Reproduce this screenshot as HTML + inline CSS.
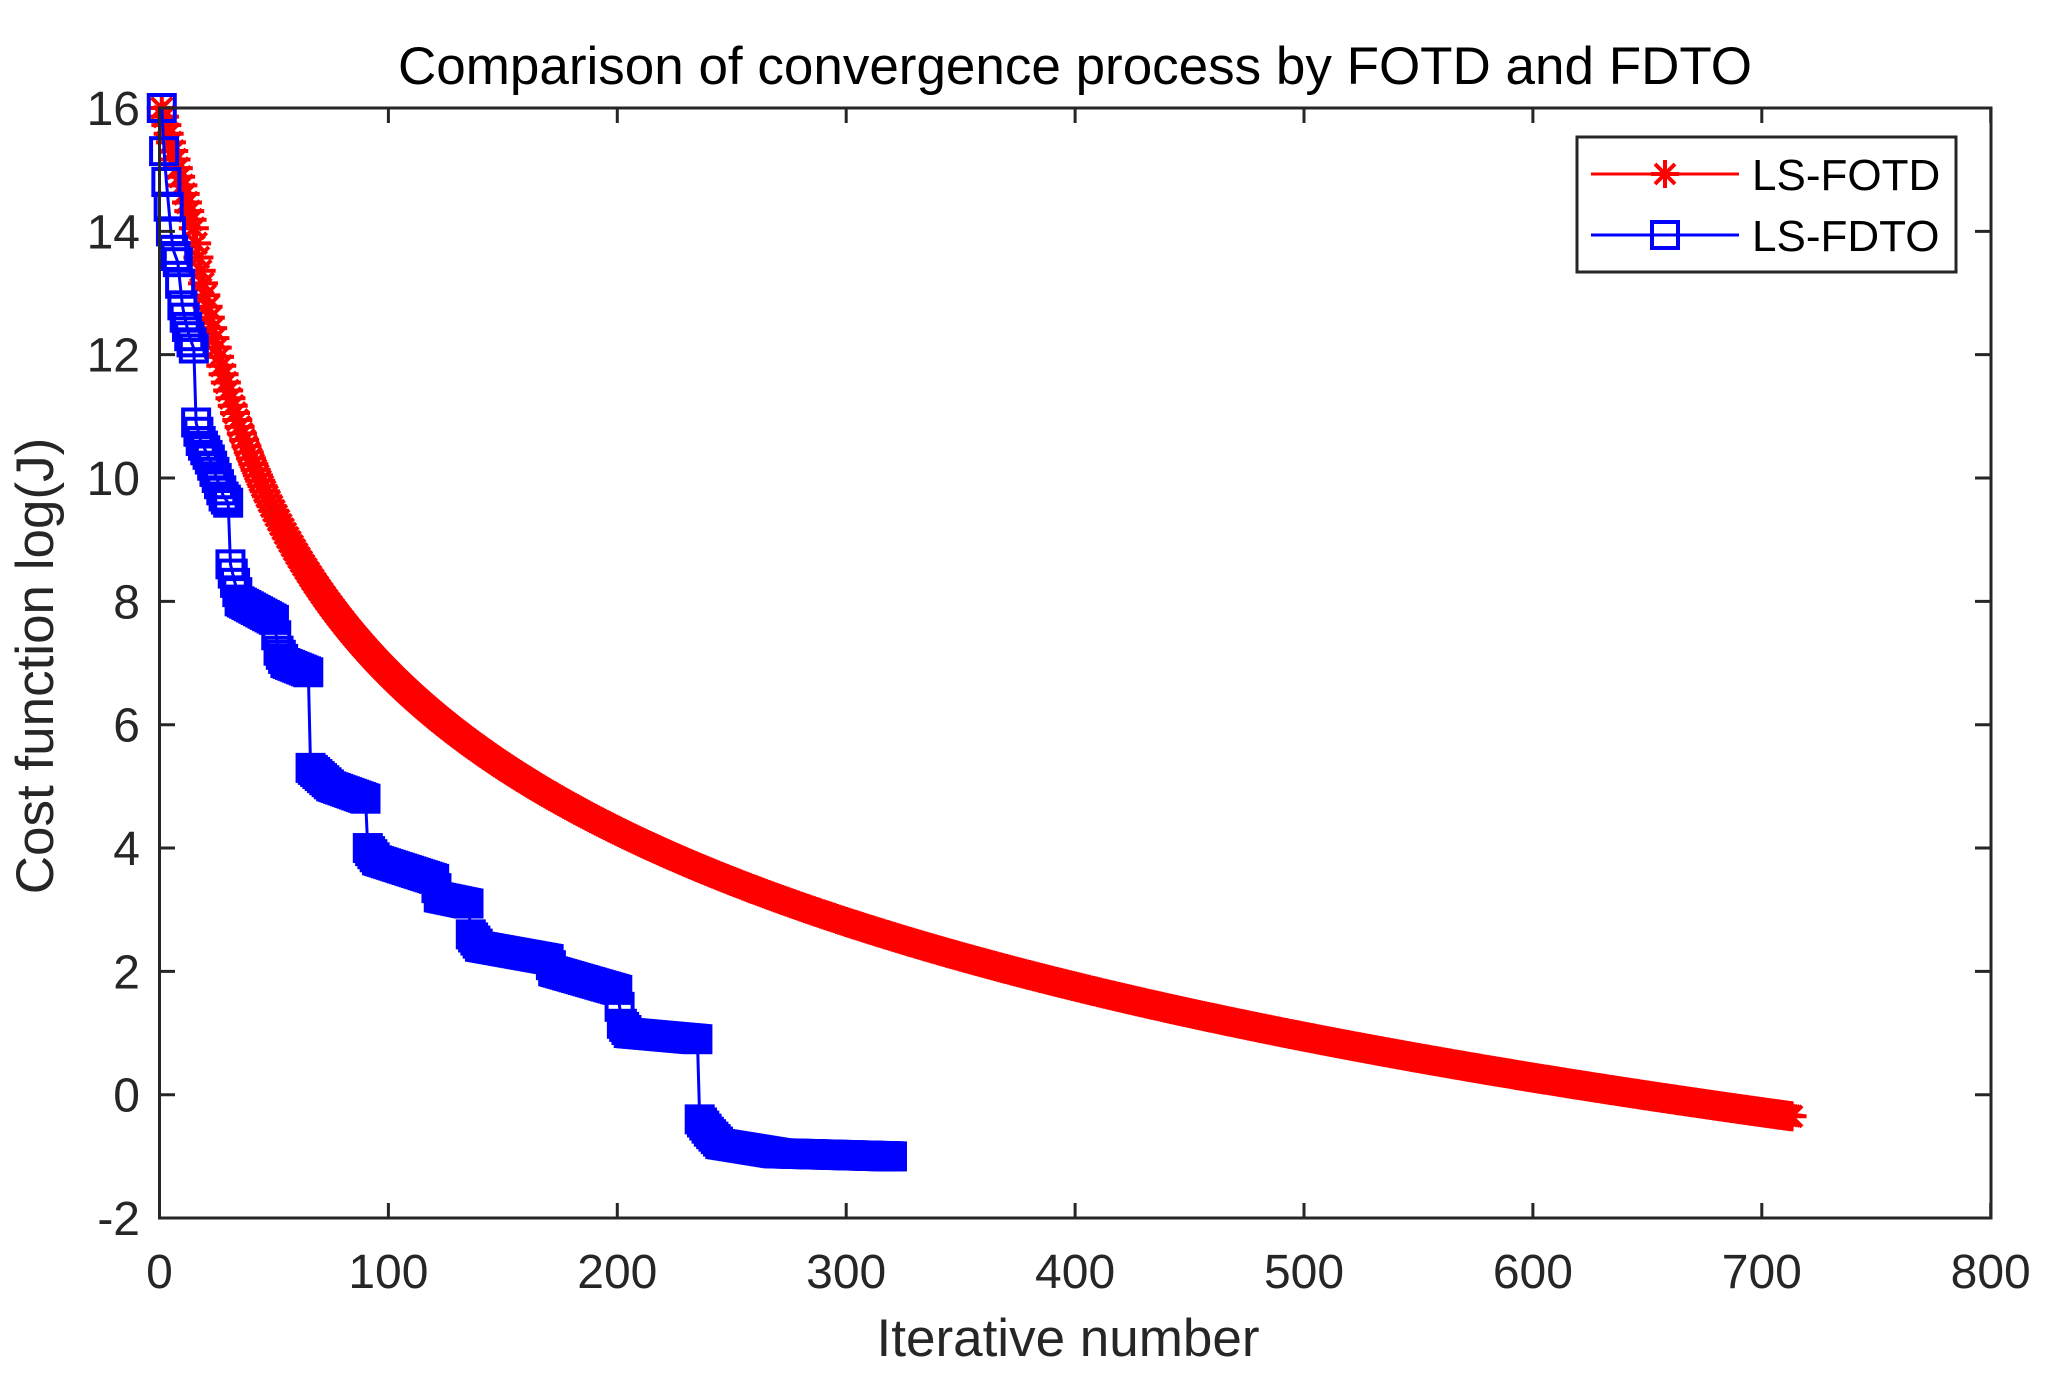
<!DOCTYPE html>
<html><head><meta charset="utf-8"><style>
html,body{margin:0;padding:0;background:#fff}
svg{display:block}
text{font-family:"Liberation Sans",Arial,sans-serif}
</style></head><body>
<svg id="s" width="2048" height="1379" xmlns="http://www.w3.org/2000/svg">
<rect width="2048" height="1379" fill="#fff"/>
<g id="data"></g>
<g id="axes" stroke="#262626" stroke-width="3" fill="none"></g>
<g id="labels" fill="#262626" font-size="48"></g>
<text x="1075" y="84" font-size="53" text-anchor="middle" fill="#000">Comparison of convergence process by FOTD and FDTO</text>
<text x="1068" y="1356" font-size="53" text-anchor="middle" fill="#262626">Iterative number</text>
<text transform="translate(53,666) rotate(-90)" font-size="53" text-anchor="middle" fill="#262626">Cost function log(J)</text>
<g>
<rect x="1577" y="137" width="379" height="135" fill="#fff" stroke="#262626" stroke-width="3"/>
<line x1="1591" y1="174" x2="1739" y2="174" stroke="#f00" stroke-width="3"/>
<g stroke="#f00" stroke-width="4"><line x1="1665" y1="160" x2="1665" y2="188"/><line x1="1651" y1="174" x2="1679" y2="174"/><line x1="1655" y1="164" x2="1675" y2="184"/><line x1="1655" y1="184" x2="1675" y2="164"/></g>
<line x1="1591" y1="235" x2="1739" y2="235" stroke="#00f" stroke-width="3"/>
<rect x="1652" y="222" width="26" height="26" fill="none" stroke="#00f" stroke-width="4"/>
<text x="1752" y="190" font-size="44" fill="#000">LS-FOTD</text>
<text x="1752" y="251" font-size="44" fill="#000">LS-FDTO</text>
</g>
</svg>
<script>
var X=function(n){return 159.5+n*2.289},Y=function(v){return 108+(16-v)*61.67};
var NS="http://www.w3.org/2000/svg";
function el(t,a,p){var e=document.createElementNS(NS,t);for(var k in a)e.setAttribute(k,a[k]);p.appendChild(e);return e;}
function interp(pts,n){for(var i=1;i<pts.length;i++){if(n<=pts[i][0]){var a=pts[i-1],b=pts[i];return a[1]+(b[1]-a[1])*(n-a[0])/(b[0]-a[0]);}}return pts[pts.length-1][1];}
function fr0(n){return 6.8-3.64*Math.log(n/100)+0.5*Math.exp(-n/40);}
function fr(n){if(n<15){return 16+(fr0(15)-16)*(n-1)/14;}return fr0(n);}
var blue=[[1,16],[2,15.3],[3,14.8],[5,14],[6,13.7],[8,13.5],[10,12.8],[11,12.6],[13,12.3],[15,12.1],[16,10.9],[18,10.6],[22,10.3],[25,10],[28,9.7],[30,9.6],[31,8.6],[33,8.3],[35,8.0],[50,7.7],[52,7.2],[55,7.0],[65,6.85],[66,5.3],[75,5.0],[90,4.8],[91,4.0],[95,3.8],[120,3.5],[122,3.2],[135,3.1],[136,2.6],[140,2.4],[170,2.2],[172,2.0],[200,1.7],[202,1.15],[205,1.0],[235,0.9],[236,-0.4],[240,-0.6],[245,-0.8],[270,-0.95],[320,-1.0]];
var d=document.getElementById("data");
var rp="";for(var n=1;n<=713;n++)rp+=(n==1?"M":"L")+X(n).toFixed(1)+","+Y(fr(n)).toFixed(1);
el("path",{d:rp,fill:"none",stroke:"#f00","stroke-width":3},d);
var rg=el("g",{stroke:"#f00","stroke-width":4},d);
for(var n=1;n<=713;n++){var x=X(n),y=Y(fr(n));
el("path",{d:"M"+x+","+(y-15)+"V"+(y+15)+"M"+(x-15)+","+y+"H"+(x+15)+"M"+(x-10.5)+","+(y-10.5)+"L"+(x+10.5)+","+(y+10.5)+"M"+(x-10.5)+","+(y+10.5)+"L"+(x+10.5)+","+(y-10.5)},rg);}
var bp="";for(var n=1;n<=320;n++)bp+=(n==1?"M":"L")+X(n).toFixed(1)+","+Y(interp(blue,n)).toFixed(1);
el("path",{d:bp,fill:"none",stroke:"#00f","stroke-width":3},d);
var bg=el("g",{stroke:"#00f","stroke-width":4,fill:"none"},d);
for(var n=1;n<=320;n++){var x=X(n),y=Y(interp(blue,n));el("rect",{x:x-13,y:y-13,width:26,height:26},bg);}
var ax=document.getElementById("axes"),lb=document.getElementById("labels");
el("rect",{x:159.5,y:108,width:1831.5,height:1110},ax);
for(var i=0;i<=8;i++){var x=X(i*100);el("path",{d:"M"+x+",1218V1203M"+x+",108V123"},ax);
var t=el("text",{x:x,y:1288,"text-anchor":"middle"},lb);t.textContent=i*100;}
for(var v=-2;v<=16;v+=2){var y=Y(v);el("path",{d:"M159.5,"+y+"H175M1991,"+y+"H1975"},ax);
var t=el("text",{x:140,y:y+17,"text-anchor":"end"},lb);t.textContent=v;}
</script>
</body></html>
